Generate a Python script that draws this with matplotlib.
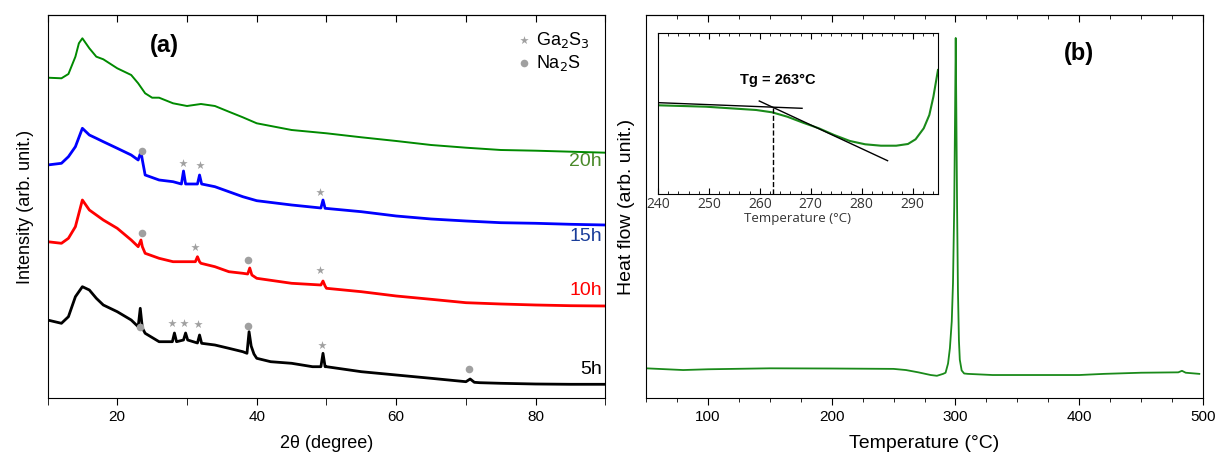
import numpy as np
import matplotlib
matplotlib.use('Agg')
import matplotlib.pyplot as plt
from matplotlib.ticker import MultipleLocator

plt.rcParams['font.family'] = ['Liberation Sans', 'DejaVu Sans']

# ---- XRD data (a), intensities in arbitrary units (already offset) ----
two_theta_20h = [10, 12, 13, 14, 14.5, 15, 16, 17, 18, 20, 22, 23, 24, 25, 26, 28, 30, 32, 34, 36, 38, 40,
                 45, 50, 55, 60, 65, 70, 75, 80, 85, 90]
int_20h = [320.3, 319.7, 324, 341.3, 354.7, 359.7, 349.7, 341.3, 338.7, 329.7, 323, 314.7, 304.7, 300.3,
           300.3, 294.7, 292, 294, 292, 286.3, 280.7, 274.7, 268, 264.7, 260.7, 257, 253, 250.3, 248, 247.3,
           246.3, 245.3]

two_theta_15h = [10, 12, 13, 14, 15, 16, 17, 18, 20, 22, 23, 23.4, 23.6, 24, 26, 28, 29.2, 29.5, 29.8, 31.5,
                 31.8, 32.1, 34, 36, 38, 40, 45, 49.2, 49.5, 49.8, 55, 60, 65, 70, 75, 80, 85, 90]
int_15h = [233, 234.7, 241.3, 251.3, 269.7, 263, 259.7, 256.3, 249.7, 243, 238, 246.3, 238, 223, 218, 216.3,
           214, 227, 214, 214, 223, 214, 211.3, 206.3, 201.3, 197.3, 193, 190, 198, 189.7, 186.3, 182, 179,
           177, 175.3, 174.7, 173.7, 173]

two_theta_10h = [10, 12, 13, 14, 15, 16, 17, 18, 20, 22, 23, 23.4, 23.6, 24, 26, 28, 30, 31.2, 31.5, 31.8, 32,
                 34, 36, 38, 38.7, 39, 39.3, 40, 45, 49.2, 49.5, 49.8, 50, 55, 60, 65, 70, 75, 80, 85, 90]
int_10h = [156.3, 154.7, 159.7, 171.3, 198, 188, 183, 178, 169.7, 158, 151.3, 158, 151.3, 144.7, 139.7,
           136.3, 136.3, 136.3, 141.3, 136.3, 134.7, 131.3, 126.3, 124.7, 124, 130, 123, 119.7, 114.7, 113,
           117, 112, 109.7, 106.3, 102, 98.7, 95.3, 94, 93, 92.3, 92]

two_theta_5h = [10, 12, 13, 14, 15, 16, 17, 18, 20, 22, 23, 23.3, 23.6, 24, 26, 27.9, 28.2, 28.5, 29.5, 29.8,
                30.1, 31.5, 31.8, 32.1, 34, 36, 38, 38.6, 38.9, 39.2, 39.6, 40, 42, 45, 48, 49.2, 49.5, 49.8,
                50, 55, 60, 65, 70, 70.6, 71.2, 72, 75, 80, 85, 90]
int_5h = [78, 74.7, 81.3, 101.3, 111.3, 108, 99.7, 93, 86.3, 78, 71.3, 89.7, 70, 64.7, 56.3, 56.3, 65, 56.3,
          58, 65, 58, 55, 63, 54.7, 53, 49.7, 46.3, 44.7, 66.3, 52, 44, 39.7, 36.3, 34.7, 31.3, 31.3, 44.7,
          31.3, 31.3, 26.3, 23, 19.7, 16.3, 19, 15.7, 15.3, 14.7, 14, 13.7, 13.7]

xrd_labels = ['20h', '15h', '10h', '5h']
xrd_label_y = [236, 161, 107, 29]

# reference peaks
ga2s3_x = [29.4, 31.9, 49.1, 31.2, 49.1, 27.8, 29.5, 31.6, 49.3]
ga2s3_y = [235, 233, 206, 151, 128, 75, 75, 74, 53]
na2s_x = [23.6, 23.6, 38.8, 23.3, 38.7, 70.5]
na2s_y = [247, 165, 138, 71, 72, 29]

# ---- DSC data (b) ----
temp = [50, 80, 100, 150, 200, 250, 260, 270, 280, 285, 290, 292, 294, 295.5, 297, 298, 299, 299.7, 300.2,
        300.7, 301.3, 302, 302.8, 303.5, 305, 307, 310, 330, 400, 420, 450, 480, 483, 486, 497]
heat = [7.75, 7.3, 7.5, 7.75, 7.7, 7.6, 7.3, 6.7, 6.0, 5.8, 6.3, 6.6, 9, 13, 20, 30, 50, 75, 94,
        75, 50, 28, 15, 10, 7.2, 6.4, 6.3, 6.0, 6.0, 6.3, 6.6, 6.7, 7.1, 6.6, 6.3]

# inset (glass transition region)
temp_in = [240, 249.4, 259.3, 262.4, 265.4, 268.5, 271.6, 274.6, 277.7, 280.7, 283.8, 286.8, 289.1, 290.6,
           292.2, 293.3, 294.1, 295]
heat_in = [88.7, 87.3, 84, 81.7, 77.3, 71.3, 65.7, 59, 53, 49.7, 48.3, 48.3, 50, 54.7, 65.7, 79, 97.3, 124]
tangent1_x = [240.2, 268.3]
tangent1_y = [91.3, 85.7]
tangent2_x = [259.9, 285.1]
tangent2_y = [93, 33.3]
tg = 262.6

fig = plt.figure(figsize=(12.18, 4.57), dpi=100)

# ---------------- panel (a) ----------------
ax1 = fig.add_axes([0.039, 0.1291, 0.4581, 0.8381])
ax1.plot(two_theta_20h, int_20h, color='#008a00', lw=1.4)
ax1.plot(two_theta_15h, int_15h, color='#0000ff', lw=2.0)
ax1.plot(two_theta_10h, int_10h, color='#ff0000', lw=2.0)
ax1.plot(two_theta_5h, int_5h, color='black', lw=2.0)
ax1.scatter(ga2s3_x, ga2s3_y, marker='*', s=40, color='#a0a0a0', zorder=5, linewidths=0)
ax1.scatter(na2s_x, na2s_y, marker='o', s=30, color='#a0a0a0', zorder=5, linewidths=0)
ax1.set_xlim(10, 90)
ax1.set_ylim(0, 383)
ax1.set_yticks([])
ax1.xaxis.set_major_locator(MultipleLocator(20))
ax1.xaxis.set_minor_locator(MultipleLocator(10))
ax1.tick_params(axis='x', which='both', direction='out', length=5, labelsize=11)
top1 = ax1.secondary_xaxis('top')
top1.xaxis.set_major_locator(MultipleLocator(10))
top1.tick_params(direction='in', length=5, labeltop=False)
ax1.set_xlabel('2\u03b8 (degree)', fontsize=13, labelpad=8)
ax1.set_ylabel('Intensity (arb. unit.)', fontsize=13, labelpad=10)
ax1.text(26.8, 352, '(a)', fontsize=17, fontweight='bold', ha='center', va='center')

label_colors = ['#4a8a2a', '#1a3d9a', '#ff0000', 'black']
for lab, yl, c in zip(xrd_labels, xrd_label_y, label_colors):
    ax1.text(89.5, yl, lab, color=c, fontsize=14, ha='right', va='center')

ax1.scatter([78.3], [358], marker='*', s=40, color='#a0a0a0', linewidths=0)
ax1.scatter([78.3], [335], marker='o', s=30, color='#a0a0a0', linewidths=0)
ax1.text(80, 358, 'Ga$_2$S$_3$', fontsize=13, va='center')
ax1.text(80, 335, 'Na$_2$S', fontsize=13, va='center')

# ---------------- panel (b) ----------------
ax2 = fig.add_axes([0.5304, 0.1291, 0.4573, 0.8381])
ax2.plot(temp, heat, color='#1a8a1a', lw=1.3)
ax2.set_xlim(50, 500)
ax2.set_ylim(0, 100)
ax2.set_yticks([])
ax2.xaxis.set_major_locator(MultipleLocator(100))
ax2.xaxis.set_minor_locator(MultipleLocator(25))
ax2.tick_params(axis='x', which='major', direction='out', length=5, labelsize=11)
ax2.tick_params(axis='x', which='minor', direction='out', length=3)
top2 = ax2.secondary_xaxis('top')
top2.xaxis.set_major_locator(MultipleLocator(100))
top2.xaxis.set_minor_locator(MultipleLocator(25))
top2.tick_params(which='major', direction='in', length=5, labeltop=False)
top2.tick_params(which='minor', direction='in', length=3)
ax2.set_xlabel('Temperature (\u00b0C)', fontsize=14, labelpad=8)
ax2.set_ylabel('Heat flow (arb. unit.)', fontsize=14, labelpad=8)
ax2.text(400, 90, '(b)', fontsize=17, fontweight='bold', ha='center', va='center')

# inset
ax3 = fig.add_axes([0.5402, 0.5755, 0.2299, 0.3523])
ax3.plot(temp_in, heat_in, color='#1a8a1a', lw=1.5)
ax3.plot(tangent1_x, tangent1_y, color='black', lw=1)
ax3.plot(tangent2_x, tangent2_y, color='black', lw=1)
ax3.plot([tg, tg], [0, 86.7], color='black', lw=1, ls='--')
ax3.set_xlim(240, 295)
ax3.set_ylim(0, 161)
ax3.set_yticks([])
ax3.xaxis.set_major_locator(MultipleLocator(10))
ax3.xaxis.set_minor_locator(MultipleLocator(2))
ax3.tick_params(axis='x', which='major', direction='in', length=4, top=True, labelsize=10, pad=2)
ax3.tick_params(axis='x', which='minor', direction='in', length=2, top=True)
for lab in ax3.get_xticklabels():
    lab.set_family(['Open Sans', 'DejaVu Sans'])
    lab.set_color('#333333')
ax3.set_xlabel('Temperature (\u00b0C)', fontsize=9.5, labelpad=0, family=['Open Sans', 'DejaVu Sans'],
               color='#333333')
ax3.text(263.5, 114, 'Tg = 263\u00b0C', fontsize=10.5, fontweight='bold', ha='center', va='center')
for sp in ax3.spines.values():
    sp.set_linewidth(0.8)

fig.savefig('out.png', dpi=100)
